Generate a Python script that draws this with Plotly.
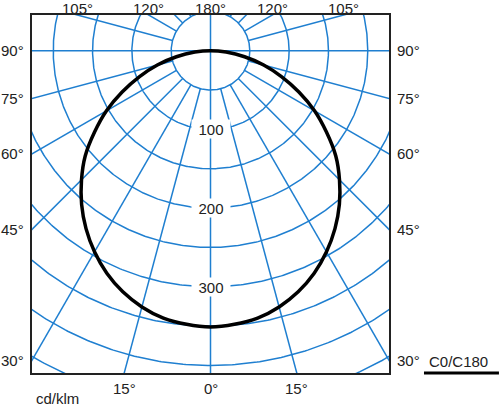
import numpy as np
import plotly.graph_objects as go

# ---- data ----
gamma_deg = [0, 5, 10, 15, 20, 25, 30, 35, 40, 45, 50, 55, 60, 65, 70, 75, 80, 85, 90]
intensity_c0_c180 = [351, 349, 345, 337, 326, 312, 295, 276, 255, 232, 208, 180, 153, 124, 96, 70, 44, 20, 0]

grid_radii = [50, 100, 150, 200, 250, 300, 350, 400, 450, 500]
grid_angles = [15, 30, 45, 60, 75, 105, 120, 135, 150, 165]
radius_labels = [100, 200, 300]
side_angle_labels = [90, 75, 60, 45, 30]
top_angle_labels = [105, 120, 180]
bottom_angle_labels = [15, 0]
unit_label = "cd/klm"
series_name = "C0/C180"

# ---- axes extent (cd/klm units) ----
XMIN, XMAX = -227.0, 227.0
YMIN, YMAX = -409.5, 45.4

BLUE = "#1f7fd0"
TXT = "#222222"
FONT = "Liberation Sans, Arial, sans-serif"

fig = go.Figure()

# circles
cx, cy = [], []
t = np.linspace(0, 2 * np.pi, 721)
for r in grid_radii:
    cx += list(r * np.cos(t)) + [None]
    cy += list(r * np.sin(t)) + [None]
fig.add_trace(go.Scatter(x=cx, y=cy, mode="lines", line=dict(color=BLUE, width=1.5),
                         hoverinfo="skip", showlegend=False))

# radial lines
rx, ry = [], []
for a in grid_angles:
    th = np.radians(a)
    for s in (-1, 1):
        rx += [s * 50 * np.sin(th), s * 800 * np.sin(th), None]
        ry += [-50 * np.cos(th), -800 * np.cos(th), None]
# vertical and horizontal through centre
rx += [0, 0, None, -800, 800, None]
ry += [800, -800, None, 0, 0, None]
fig.add_trace(go.Scatter(x=rx, y=ry, mode="lines", line=dict(color=BLUE, width=1.5),
                         hoverinfo="skip", showlegend=False))

# intensity curve (both halves)
g = np.radians(np.array(gamma_deg, dtype=float))
I = np.array(intensity_c0_c180, dtype=float)
xs = np.concatenate([-(I * np.sin(g))[::-1], (I * np.sin(g))[1:]])
ys = np.concatenate([-(I * np.cos(g))[::-1], -(I * np.cos(g))[1:]])
fig.add_trace(go.Scatter(x=xs, y=ys, mode="lines", line=dict(color="black", width=3.5, shape="spline"),
                         name=series_name, showlegend=False, hoverinfo="skip"))

ann = []
# radius labels
for r in radius_labels:
    ann.append(dict(x=0, y=-r, xref="x", yref="y", text=str(r), showarrow=False,
                    bgcolor="white", width=36, height=16,
                    font=dict(family=FONT, size=15, color=TXT)))
# side labels
for a in side_angle_labels:
    th = np.radians(a)
    yv = 0.0 if a == 90 else -XMAX / np.tan(th)
    ann.append(dict(x=XMIN, y=yv, xref="x", yref="y", text=f"{a}°", showarrow=False,
                    xanchor="right", xshift=-6, font=dict(family=FONT, size=15, color=TXT)))
    ann.append(dict(x=XMAX, y=yv, xref="x", yref="y", text=f"{a}°", showarrow=False,
                    xanchor="left", xshift=6, font=dict(family=FONT, size=15, color=TXT)))
# top labels
for a in top_angle_labels:
    th = np.radians(a)
    xv = 0.0 if a == 180 else YMAX * np.tan(np.pi - th)
    for s in ((1,) if a == 180 else (-1, 1)):
        ann.append(dict(x=s * xv, y=YMAX, xref="x", yref="y", text=f"{a}°", showarrow=False,
                        yanchor="middle", yshift=7, font=dict(family=FONT, size=15, color=TXT)))
# bottom labels
for a in bottom_angle_labels:
    th = np.radians(a)
    xv = -YMIN * np.tan(th)
    for s in ((1,) if a == 0 else (-1, 1)):
        ann.append(dict(x=s * xv, y=YMIN, xref="x", yref="y", text=f"{a}°", showarrow=False,
                        yanchor="top", yshift=-5, font=dict(family=FONT, size=15, color=TXT)))
# unit label
ann.append(dict(x=0.006, y=-0.1, xref="paper", yref="paper", text=unit_label, showarrow=False,
                xanchor="left", yanchor="bottom", font=dict(family=FONT, size=15, color=TXT)))
# series label
ann.append(dict(x=1.106, y=0.031, xref="paper", yref="paper", text=series_name, showarrow=False,
                xanchor="left", yanchor="middle", font=dict(family=FONT, size=15, color=TXT)))

fig.update_layout(
    width=500, height=409,
    margin=dict(l=32, r=111, t=15, b=36),
    paper_bgcolor="white", plot_bgcolor="white",
    annotations=ann,
    shapes=[dict(type="line", xref="paper", yref="paper", x0=1.098, x1=1.308, y0=0.0, y1=0.0,
                 line=dict(color="black", width=3))],
    xaxis=dict(range=[XMIN, XMAX], showgrid=False, zeroline=False, showticklabels=False,
               ticks="", showline=True, mirror=True, linecolor="#222", linewidth=1.5),
    yaxis=dict(range=[YMIN, YMAX], showgrid=False, zeroline=False, showticklabels=False,
               ticks="", showline=True, mirror=True, linecolor="#222", linewidth=1.5),
)

fig.write_html("out.html", config={"displayModeBar": False},
               post_script="document.body.style.margin='0';")
